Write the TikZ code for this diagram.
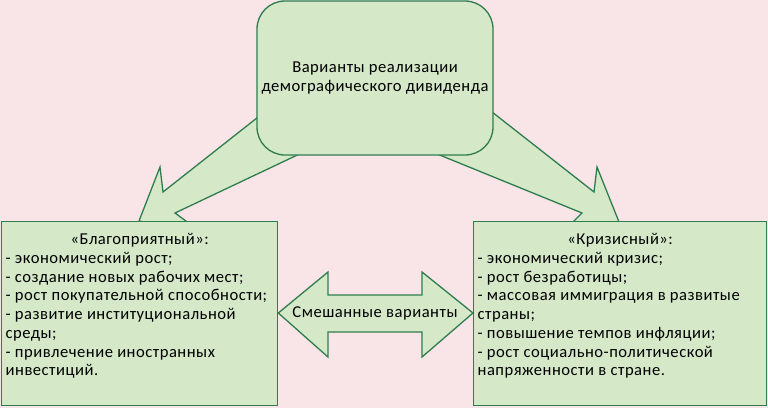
\documentclass[tikz,border=0pt]{standalone}
\usepackage{fontspec}
\setmainfont{Carlito}[LetterSpace=3]
\definecolor{bg}{HTML}{F9E5E7}
\definecolor{gfill}{HTML}{D5E8C8}
\definecolor{gline}{HTML}{2E7D4F}
\begin{document}
\begin{tikzpicture}[x=1pt,y=-1pt,
  shapestyle/.style={fill=gfill,draw=gline,line width=1.3pt,line join=miter},
  txt/.style={font=\fontsize{16.6pt}{18.7pt}\selectfont},
  box/.style={shapestyle,txt,rectangle,anchor=north west,inner xsep=4pt,inner ysep=12pt,minimum height=184pt},
  topbox/.style={shapestyle,txt,rectangle,rounded corners=28pt,minimum width=236pt,minimum height=154pt,align=center}]
\useasboundingbox (0,0) rectangle (768,408);
\fill[bg] (0,0) rectangle (768,408);
% left block arrow
\draw[shapestyle] (300,84) -- (163,192) -- (160,167) -- (139,221) -- (205,235) -- (175,213) -- (310,149) -- cycle;
% right block arrow
\draw[shapestyle] (450,79) -- (594,192) -- (597,167) -- (619,222) -- (560,235) -- (582,213) -- (420,147) -- cycle;
% top box
\node[topbox] (top) at (375,78) {Варианты реализации\\демографического дивиденда};
% left box
\node[box,minimum width=276pt] (lbox) at (1,221) {\parbox[t][160pt][t]{268pt}{\centering «Благоприятный»:\par\raggedright
- экономический рост;\\
- создание новых рабочих мест;\\
- рост покупательной способности;\\
- развитие институциональной\\
среды;\\
- привлечение иностранных\\
инвестиций.}};
% right box
\node[box,minimum width=293pt] (rbox) at (473,221) {\parbox[t][160pt][t]{285pt}{\centering «Кризисный»:\par\raggedright
- экономический кризис;\\
- рост безработицы;\\
- массовая иммиграция в развитые\\
страны;\\
- повышение темпов инфляции;\\
- рост социально-политической\\
напряженности в стране.}};
% double arrow
\draw[shapestyle] (lbox.east |- 0,313) -- (328,272) -- (328,295) -- (422,295) -- (422,272) -- (rbox.west |- 0,313) -- (422,357) -- (422,332) -- (328,332) -- (328,357) -- cycle;
\node[txt,inner sep=0pt] (mid) at (375,313) {Смешанные варианты};
\end{tikzpicture}
\end{document}
